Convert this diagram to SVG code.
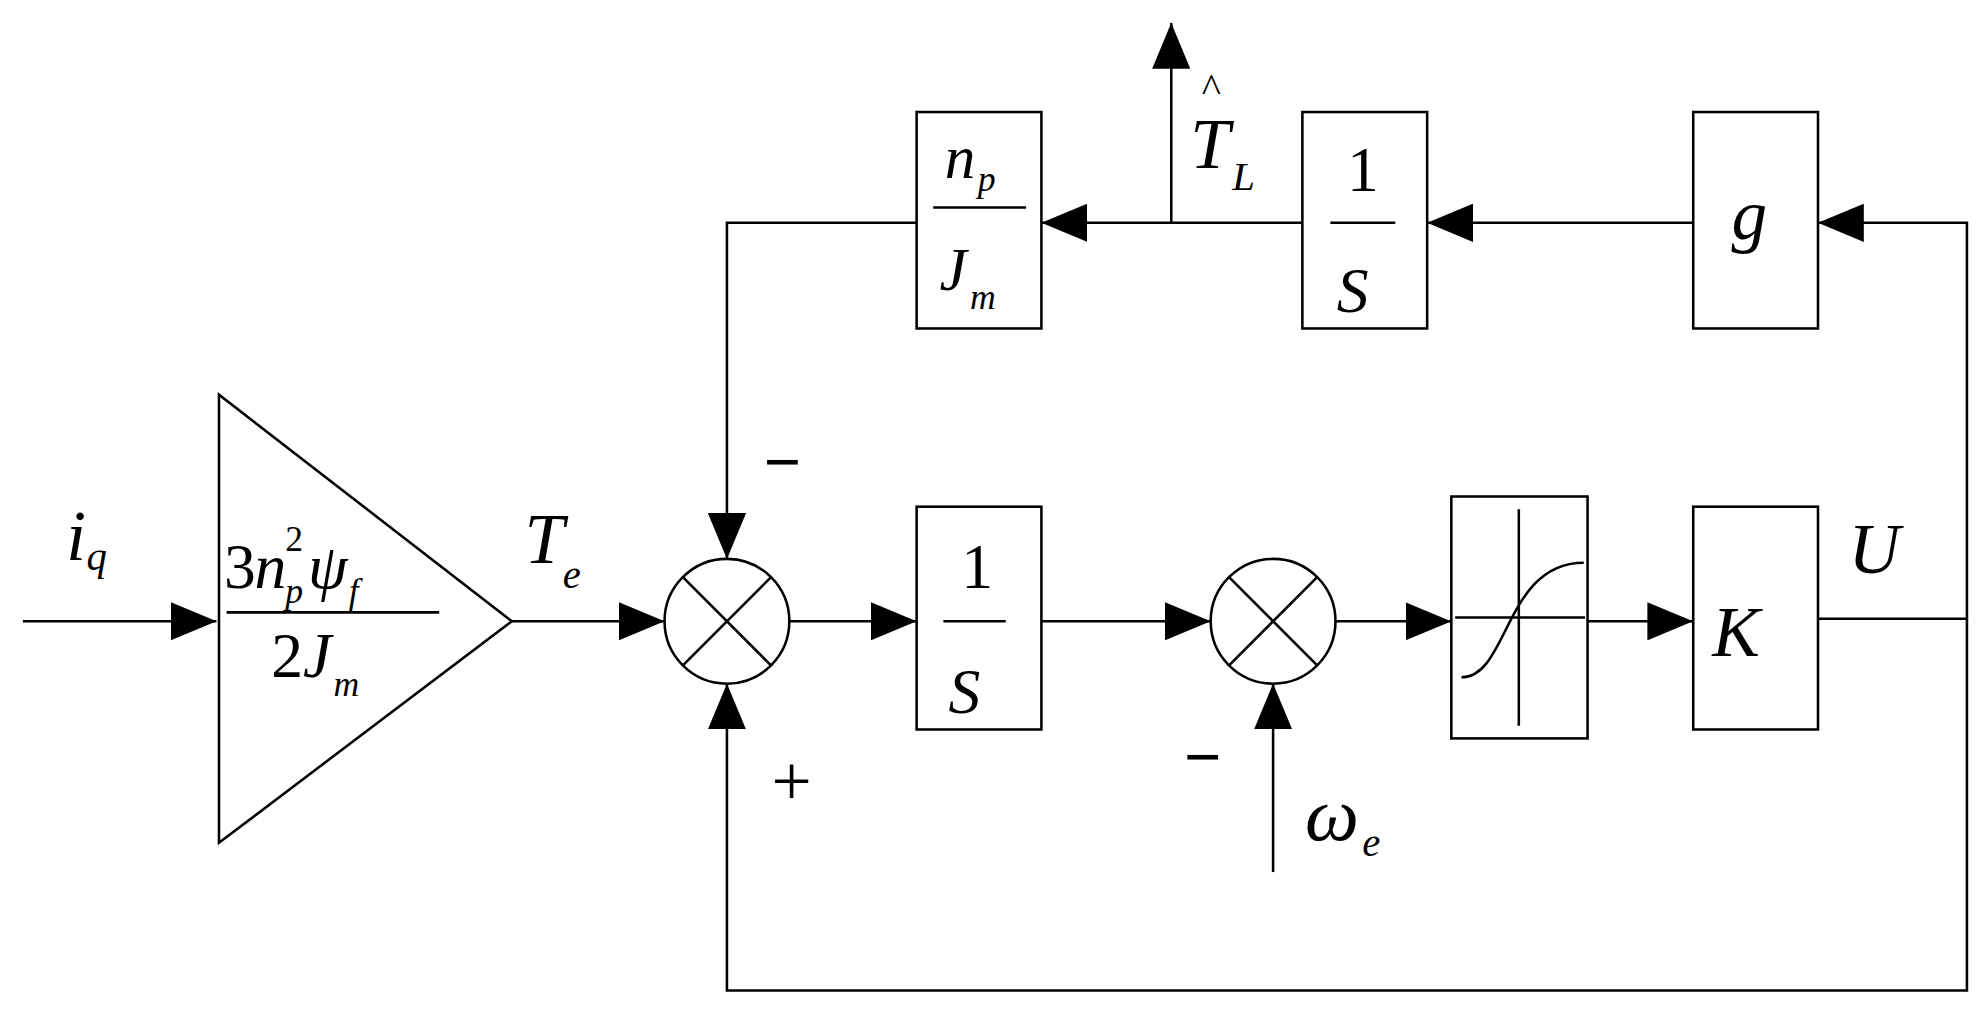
<svg xmlns="http://www.w3.org/2000/svg" width="1986" height="1015" viewBox="0 0 1986 1015">
<style>
.l{stroke:#000;stroke-width:2;fill:none}
.b{stroke:#000;stroke-width:2;fill:#fff}
text{font-family:"Liberation Serif",serif;font-style:italic;fill:#000}
.n{font-style:normal}
</style>
<defs>
<marker id="a" markerWidth="36" markerHeight="30" refX="36" refY="15" orient="auto" markerUnits="userSpaceOnUse"><path d="M0,0L36,15L0,30Z" fill="#000"/></marker>
</defs>
<rect width="1986" height="1015" fill="#fff"/>
<g transform="scale(1.2731)">
<g id="connectors">
<path class="l" d="M18,488H170" marker-end="url(#a)"/>
<path class="l" d="M402,488H522" marker-end="url(#a)"/>
<path class="l" d="M620,488H720" marker-end="url(#a)"/>
<path class="l" d="M818,488H951" marker-end="url(#a)"/>
<path class="l" d="M1049,488H1140" marker-end="url(#a)"/>
<path class="l" d="M1247,488H1330" marker-end="url(#a)"/>
<path class="l" d="M1428,486H1545V778H571V537" marker-end="url(#a)"/>
<path class="l" d="M1545,486V175H1428" marker-end="url(#a)"/>
<path class="l" d="M1330,175H1121" marker-end="url(#a)"/>
<path class="l" d="M1023,175H818" marker-end="url(#a)"/>
<path class="l" d="M920,175V18" marker-end="url(#a)"/>
<path class="l" d="M720,175H571V439" marker-end="url(#a)"/>
<path class="l" d="M1000,685V537" marker-end="url(#a)"/>
</g>
<g id="gain"><path class="b" d="M172,310V662L402,488Z"/>
<text x="176" y="462" font-size="50" class="n">3</text><text x="200" y="462" font-size="50">n</text><text x="224" y="433" font-size="28" class="n">2</text><text x="224" y="474" font-size="28">p</text><text x="242" y="462" font-size="50">ψ</text><text x="274" y="474" font-size="28">f</text>
<path class="l" d="M178,481H345" stroke-width="3"/>
<text x="213" y="532" font-size="50" class="n">2</text><text x="238" y="532" font-size="50">J</text><text x="262" y="547" font-size="28">m</text></g>
<g id="sum1"><circle class="b" cx="571" cy="488" r="49"/><path class="l" d="M536,453L606,523M606,453L536,523"/></g>
<g id="int1"><rect class="b" x="720" y="398" width="98" height="175"/><text x="755" y="462" font-size="50" class="n">1</text><path class="l" stroke-width="3" d="M741,488H790"/><text x="745" y="560" font-size="50">S</text></g>
<g id="sum2"><circle class="b" cx="1000" cy="488" r="49"/><path class="l" d="M965,453L1035,523M1035,453L965,523"/></g>
<g id="sat"><rect class="b" x="1140" y="390" width="107" height="190"/><path class="l" d="M1143,485H1245M1193,400V570M1148,532C1185,532,1182,442,1244,442"/></g>
<g id="K"><rect class="b" x="1330" y="398" width="98" height="175"/><text x="1345" y="515" font-size="56">K</text></g>
<g id="g"><rect class="b" x="1330" y="88" width="98" height="170"/><text x="1360" y="188" font-size="56">g</text></g>
<g id="int2"><rect class="b" x="1023" y="88" width="98" height="170"/><text x="1058" y="150" font-size="50" class="n">1</text><path class="l" stroke-width="3" d="M1045,175H1096"/><text x="1050" y="245" font-size="50">S</text></g>
<g id="npJm"><rect class="b" x="720" y="88" width="98" height="170"/><text x="742" y="140" font-size="48">n</text><text x="768" y="150" font-size="28">p</text><path class="l" stroke-width="3" d="M733,163H806"/><text x="738" y="228" font-size="48">J</text><text x="762" y="243" font-size="28">m</text></g>
<g id="labels">
<text x="52" y="440" font-size="56">i</text><text x="68" y="448" font-size="32">q</text>
<text x="412" y="442" font-size="56">T</text><text x="442" y="462" font-size="32">e</text>
<text x="600" y="380" font-size="52" class="n" font-weight="bold">−</text>
<text x="606" y="632" font-size="56" class="n">+</text>
<text x="930" y="612" font-size="52" class="n" font-weight="bold">−</text>
<text x="1025" y="660" font-size="60">ω</text><text x="1070" y="672" font-size="32">e</text>
<text x="1452" y="450" font-size="56">U</text>
<text x="935" y="132" font-size="56">T</text><text x="944" y="80" font-size="32" class="n">^</text><text x="968" y="149" font-size="32">L</text>
</g>
</g>
</svg>
